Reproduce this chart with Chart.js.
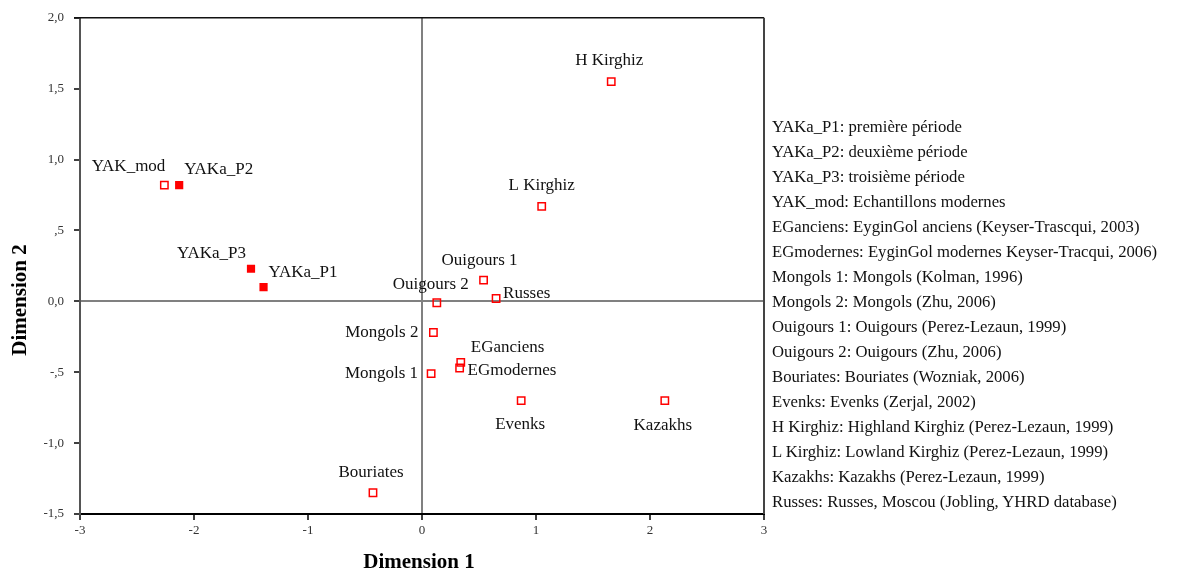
<!DOCTYPE html>
<html>
<head>
<meta charset="utf-8">
<script src="https://cdn.jsdelivr.net/npm/chart.js@4.4.0/dist/chart.umd.min.js"></script>
<style>
  html, body { margin: 0; padding: 0; background: #fff; }
  #wrap { position: relative; width: 1197px; height: 576px; }
  #legend {
    position: absolute; left: 772px; top: 114px;
    font-family: "Liberation Serif", "Times New Roman", serif;
    font-size: 16.7px; line-height: 25px; color: #111; white-space: nowrap;
  }
</style>
</head>
<body>
<div id="wrap">
  <canvas id="mdsChart" width="1197" height="576"></canvas>
  <div id="legend"></div>
</div>
<script>
// populations of comparison (hollow squares)
const popNames = ['YAK_mod', 'H Kirghiz', 'L Kirghiz', 'Ouigours 1', 'Ouigours 2', 'Russes',
                  'Mongols 2', 'EGanciens', 'EGmodernes', 'Mongols 1', 'Evenks', 'Kazakhs', 'Bouriates'];
const popDim1 = [-2.26, 1.66, 1.05, 0.54, 0.13, 0.65, 0.10, 0.34, 0.33, 0.08, 0.87, 2.13, -0.43];
const popDim2 = [0.82, 1.55, 0.67, 0.15, -0.01, 0.02, -0.22, -0.43, -0.47, -0.51, -0.70, -0.70, -1.35];

// ancient Yakut periods (filled squares)
const yakNames = ['YAKa_P2', 'YAKa_P3', 'YAKa_P1'];
const yakDim1 = [-2.13, -1.50, -1.39];
const yakDim2 = [0.82, 0.23, 0.10];

// axis tick labels
const xTicks = [-3, -2, -1, 0, 1, 2, 3];
const xTickText = ['-3', '-2', '-1', '0', '1', '2', '3'];
const yTicks = [-1.5, -1, -0.5, 0, 0.5, 1, 1.5, 2];
const yTickText = ['-1,5', '-1,0', '-,5', '0,0', ',5', '1,0', '1,5', '2,0'];

const legendLines = [
  'YAKa_P1: première période',
  'YAKa_P2: deuxième période',
  'YAKa_P3: troisième période',
  'YAK_mod: Echantillons modernes',
  'EGanciens: EyginGol anciens (Keyser-Trascqui, 2003)',
  'EGmodernes: EyginGol modernes Keyser-Tracqui, 2006)',
  'Mongols 1: Mongols (Kolman, 1996)',
  'Mongols 2: Mongols (Zhu, 2006)',
  'Ouigours 1: Ouigours (Perez-Lezaun, 1999)',
  'Ouigours 2: Ouigours (Zhu, 2006)',
  'Bouriates: Bouriates (Wozniak, 2006)',
  'Evenks: Evenks (Zerjal, 2002)',
  'H Kirghiz: Highland Kirghiz (Perez-Lezaun, 1999)',
  'L Kirghiz: Lowland Kirghiz (Perez-Lezaun, 1999)',
  'Kazakhs: Kazakhs (Perez-Lezaun, 1999)',
  'Russes: Russes, Moscou (Jobling, YHRD database)'
];

const SERIF = '"Liberation Serif", "Times New Roman", serif';

// where each point name sits relative to its marker: [align, dx, dy]
const labelPlace = {
  'YAK_mod':    ['right', 1, -19],
  'YAKa_P2':    ['left', 5, -16],
  'YAKa_P3':    ['right', -5, -15],
  'YAKa_P1':    ['left', 5, -15],
  'H Kirghiz':  ['center', -2, -21],
  'L Kirghiz':  ['center', 0, -21],
  'Ouigours 1': ['center', -4, -20],
  'Ouigours 2': ['center', -6, -18],
  'Russes':     ['left', 7, -5],
  'Mongols 2':  ['right', -15, 0],
  'EGanciens':  ['left', 10, -15],
  'EGmodernes': ['left', 8, 3],
  'Mongols 1':  ['right', -13, 0],
  'Evenks':     ['center', -1, 24],
  'Kazakhs':    ['center', -2, 25],
  'Bouriates':  ['center', -2, -20]
};

document.getElementById('legend').innerHTML = legendLines.map(t => `<div>${t}</div>`).join('');

const toPoints = (xs, ys) => xs.map((x, i) => ({ x: x, y: ys[i] }));

// names next to every marker
const pointNames = {
  id: 'pointNames',
  afterDatasetsDraw(chart) {
    const ctx = chart.ctx;
    ctx.save();
    ctx.font = '17px ' + SERIF;
    ctx.fillStyle = '#111';
    ctx.textBaseline = 'middle';
    chart.data.datasets.forEach((ds, di) => {
      chart.getDatasetMeta(di).data.forEach((pt, i) => {
        const name = ds.names[i];
        const p = labelPlace[name] || ['center', 0, -20];
        ctx.textAlign = p[0];
        ctx.fillText(name, pt.x + p[1], pt.y + p[2]);
      });
    });
    ctx.restore();
  }
};

// top and right edges of the plot box, plus the axis titles
const frameAndTitles = {
  id: 'frameAndTitles',
  afterDraw(chart) {
    const { ctx, chartArea: a } = chart;
    ctx.save();
    ctx.strokeStyle = '#111';
    ctx.lineWidth = 1.5;
    ctx.beginPath();
    ctx.moveTo(a.left - 6, a.top);
    ctx.lineTo(a.right, a.top);
    ctx.stroke();
    ctx.strokeStyle = '#444';
    ctx.lineWidth = 2;
    ctx.beginPath();
    ctx.moveTo(a.right, a.top);
    ctx.lineTo(a.right, a.bottom);
    ctx.stroke();

    ctx.fillStyle = '#000';
    ctx.font = 'bold 21px ' + SERIF;
    ctx.textAlign = 'center';
    ctx.textBaseline = 'middle';
    ctx.fillText('Dimension 1', 419, 563);
    ctx.translate(21, 300);
    ctx.rotate(-Math.PI / 2);
    ctx.fillText('Dimension 2', 0, 0);
    ctx.restore();
  }
};

const zeroLine = ctx => (ctx.tick && ctx.tick.value === 0) ? '#808080' : 'rgba(0,0,0,0)';

new Chart(document.getElementById('mdsChart'), {
  type: 'scatter',
  data: {
    datasets: [
      {
        label: 'populations',
        names: popNames,
        data: toPoints(popDim1, popDim2),
        pointStyle: 'rect',
        pointRadius: 5.2,
        pointBorderWidth: 1.5,
        pointBorderColor: '#ff0000',
        pointBackgroundColor: 'rgba(0,0,0,0)'
      },
      {
        label: 'Yakoutes anciens',
        names: yakNames,
        data: toPoints(yakDim1, yakDim2),
        pointStyle: 'rect',
        pointRadius: 5.8,
        pointBorderWidth: 0,
        pointBackgroundColor: '#ff0000'
      }
    ]
  },
  options: {
    responsive: false,
    animation: false,
    events: [],
    layout: { padding: { top: 15, right: 433, left: 0, bottom: 0 } },
    plugins: { legend: { display: false }, tooltip: { enabled: false } },
    scales: {
      x: {
        type: 'linear', min: -3, max: 3,
        afterFit: s => { s.height = 62; },
        afterBuildTicks: s => { s.ticks = xTicks.map(v => ({ value: v })); },
        ticks: {
          font: { family: SERIF, size: 13 }, color: '#333', padding: 3,
          callback: v => xTickText[xTicks.indexOf(v)]
        },
        grid: { color: zeroLine, lineWidth: 2, tickColor: '#000', tickWidth: 1.5, tickLength: 6 },
        border: { color: '#000', width: 2 }
      },
      y: {
        type: 'linear', min: -1.5, max: 2,
        afterFit: s => { s.width = 80; },
        afterBuildTicks: s => { s.ticks = yTicks.map(v => ({ value: v })); },
        ticks: {
          font: { family: SERIF, size: 13 }, color: '#333', padding: 10,
          callback: v => yTickText[yTicks.indexOf(v)]
        },
        grid: { color: zeroLine, lineWidth: 2, tickColor: '#000', tickWidth: 1.5, tickLength: 6 },
        border: { color: '#555', width: 2 }
      }
    }
  },
  plugins: [pointNames, frameAndTitles]
});
</script>
</body>
</html>
